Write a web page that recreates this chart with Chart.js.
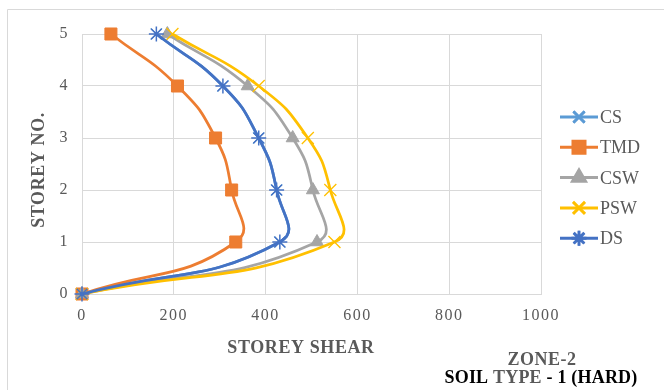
<!DOCTYPE html>
<html>
<head>
<meta charset="utf-8">
<script src="https://cdn.jsdelivr.net/npm/chart.js@4.4.0/dist/chart.umd.min.js"></script>
<style>
html, body { margin: 0; padding: 0; background: #fff; }
#wrap { position: relative; width: 664px; height: 390px; }
</style>
</head>
<body>
<div id="wrap"><canvas id="myChart" width="664" height="390"></canvas></div>
<script>
// storey shear per storey, zone 2, hard soil
const storeys = [0, 1, 2, 3, 4, 5]
const csShear = [0, 431, 424, 385, 307, 162]
const tmdShear = [0, 335, 326, 291, 208, 63]
const cswShear = [0, 512, 503, 459, 361, 186]
const pswShear = [0, 550, 541, 492, 385, 197]
const dsShear = [0, 431, 424, 385, 307, 162]
const xTicks = [0, 200, 400, 600, 800, 1000]
const yTicks = [0, 1, 2, 3, 4, 5]

const serif = "'Liberation Serif', 'Times New Roman', serif"
const gridColor = '#d9d9d9'
const textColor = '#595959'

const series = [
    {label: 'CS', values: csShear, color: '#5B9BD5', style: 'crossRot', radius: 8, pointWidth: 1.3},
    {label: 'TMD', values: tmdShear, color: '#ED7D31', style: 'rect', radius: 8.5, pointWidth: 1},
    {label: 'CSW', values: cswShear, color: '#A5A5A5', style: 'triangle', radius: 7.5, pointWidth: 1},
    {label: 'PSW', values: pswShear, color: '#FFC000', style: 'crossRot', radius: 8.5, pointWidth: 1.3},
    {label: 'DS', values: dsShear, color: '#4472C4', style: 'star', radius: 7.5, pointWidth: 1.5}
]

function toPoints(values)
{
    return values.map((v, i) => ({x: v, y: storeys[i]}))
}

// outer frame, axis titles and the legend on the right
const decorations = {
    id: 'decorations',
    beforeDraw(chart) {
        const ctx = chart.ctx
        ctx.save()
        ctx.strokeStyle = gridColor
        ctx.lineWidth = 1
        ctx.beginPath()
        ctx.moveTo(7.5, 390)
        ctx.lineTo(7.5, 9.5)
        ctx.lineTo(664, 9.5)
        ctx.stroke()
        ctx.restore()
        // tick labels are drawn a little spaced out
        ctx.letterSpacing = '1.5px'
    },
    beforeDatasetsDraw(chart) {
        chart.ctx.letterSpacing = '0px'
    },
    afterDraw(chart) {
        const ctx = chart.ctx
        ctx.save()

        // y axis title
        ctx.fillStyle = textColor
        ctx.font = 'bold 18px ' + serif
        ctx.letterSpacing = '0.6px'
        ctx.textAlign = 'center'
        ctx.textBaseline = 'alphabetic'
        ctx.translate(44, 170)
        ctx.rotate(-Math.PI / 2)
        ctx.fillText('STOREY NO.', 0, 0)
        ctx.setTransform(1, 0, 0, 1, 0, 0)

        // x axis title
        ctx.fillText('STOREY SHEAR', 301, 353)

        // zone caption
        ctx.letterSpacing = '0.5px'
        ctx.fillText('ZONE-2', 542, 365)
        ctx.letterSpacing = '0.2px'
        const parts = [['SOIL ', '#000'], ['TYPE', textColor], [' - 1 (HARD)', '#000']]
        const total = parts.reduce((s, p) => s + ctx.measureText(p[0]).width, 0)
        let x = 541 - total / 2
        ctx.textAlign = 'left'
        parts.forEach(p => {
            ctx.fillStyle = p[1]
            ctx.fillText(p[0], x, 383)
            x += ctx.measureText(p[0]).width
        })
        ctx.letterSpacing = '0px'

        // legend
        chart.data.datasets.forEach((ds, i) => {
            const y = 117 + i * 30.3
            ctx.strokeStyle = ds.borderColor
            ctx.lineWidth = 3
            ctx.beginPath()
            ctx.moveTo(560, y)
            ctx.lineTo(598, y)
            ctx.stroke()
            Chart.helpers.drawPoint(ctx, {
                pointStyle: ds.pointStyle,
                radius: ds.pointRadius,
                rotation: 0,
                borderWidth: ds.pointBorderWidth
            }, 579, y)
            ctx.fillStyle = ds.borderColor
            ctx.strokeStyle = ds.borderColor
            ctx.lineWidth = ds.pointBorderWidth
            ctx.fill()
            ctx.stroke()
            ctx.fillStyle = textColor
            ctx.font = '18px ' + serif
            ctx.textAlign = 'left'
            ctx.textBaseline = 'alphabetic'
            ctx.fillText(ds.label, 600, y + 6)
        })
        ctx.restore()
    }
}

// later series sit on top, as in the legend order
const datasets = series.map((s, idx) => ({
    label: s.label,
    data: toPoints(s.values),
    order: series.length - idx,
    showLine: true,
    tension: 0.5,
    borderColor: s.color,
    backgroundColor: s.color,
    borderWidth: 2.75,
    pointStyle: s.style,
    pointRadius: s.radius,
    pointBorderWidth: s.pointWidth,
    pointBackgroundColor: s.color,
    pointBorderColor: s.color,
    clip: false
}))

new Chart('myChart', {
    type: 'scatter',
    data: {datasets: datasets},
    options: {
        responsive: false,
        animation: false,
        layout: {padding: {top: 34, right: 123, bottom: 0, left: 0}},
        plugins: {
            legend: {display: false},
            tooltip: {enabled: false}
        },
        scales: {
            x: {
                type: 'linear',
                min: 0,
                max: 1000,
                afterBuildTicks: scale => { scale.ticks = xTicks.map(v => ({value: v})) },
                afterFit: scale => { scale.height = 96 },
                grid: {color: gridColor, drawTicks: false, lineWidth: 1},
                border: {color: gridColor},
                ticks: {padding: 12, color: textColor, font: {family: serif, size: 16}, callback: v => String(v)}
            },
            y: {
                type: 'linear',
                min: 0,
                max: 5,
                afterBuildTicks: scale => { scale.ticks = yTicks.map(v => ({value: v})) },
                afterFit: scale => { scale.width = 82 },
                grid: {color: gridColor, drawTicks: false, lineWidth: 1},
                border: {color: gridColor},
                ticks: {padding: 13, color: textColor, font: {family: serif, size: 16}, callback: v => String(v)}
            }
        }
    },
    plugins: [decorations]
})
</script>
</body>
</html>
